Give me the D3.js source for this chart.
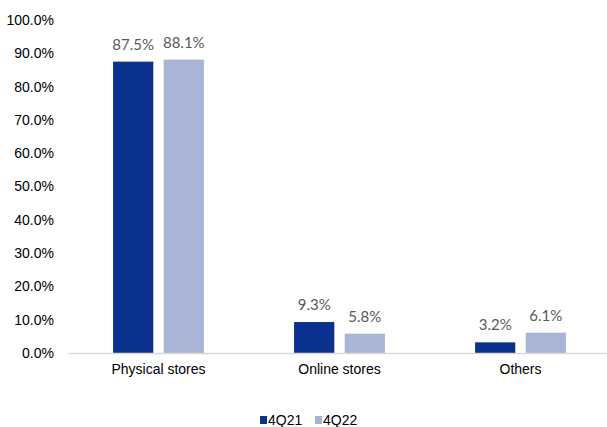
<!DOCTYPE html>
<html>
<head>
<meta charset="utf-8">
<script src="https://cdn.jsdelivr.net/npm/d3@7"></script>
<style>
  body { margin: 0; background: #fff; }
</style>
</head>
<body>
<div id="chart"></div>
<script>
var categories = ["Physical stores", "Online stores", "Others"];
var seriesNames = ["4Q21", "4Q22"];
var values4Q21 = [87.5, 9.3, 3.2];
var values4Q22 = [88.1, 5.8, 6.1];
var yTicks = [0, 10, 20, 30, 40, 50, 60, 70, 80, 90, 100];
var colors = ["#0b318f", "#a9b4d9"];

var width = 607, height = 427;
var margin = { top: 20, right: -4, bottom: 74, left: 68 };
var innerW = width - margin.left - margin.right,
	innerH = height - margin.top - margin.bottom;

var data = categories.map(function(c, i) {
	return { cat: c, vals: [values4Q21[i], values4Q22[i]] };
});

var svg = d3.select("#chart").append("svg")
	.attr("width", width)
	.attr("height", height);

var g = svg.append("g")
	.attr("transform", "translate(" + margin.left + "," + margin.top + ")");

var x = d3.scaleBand()
	.domain(categories)
	.range([0, innerW])
	.padding(0);

var xs = d3.scaleBand()
	.domain(seriesNames)
	.range([x.bandwidth() * 0.249, x.bandwidth() * 0.751])
	.paddingInner(0.205);

var y = d3.scaleLinear()
	.domain([0, 100])
	.range([innerH, 0]);

// y axis labels (no line)
var yAxis = d3.axisLeft(y)
	.tickValues(yTicks)
	.tickSize(0)
	.tickPadding(14)
	.tickFormat(function(d) { return d.toFixed(1) + "%"; });

g.append("g")
	.attr("class", "axis y")
	.call(yAxis)
	.call(function(s) { s.select(".domain").remove(); })
	.selectAll("text")
	.style("font-family", "Arial, 'Liberation Sans', sans-serif")
	.style("font-size", "14px")
	.attr("fill", "#000");

var groups = g.selectAll("g.cat")
	.data(data)
	.enter().append("g")
	.attr("class", "cat")
	.attr("transform", function(d) { return "translate(" + x(d.cat) + ",0)"; });

groups.selectAll("rect")
	.data(function(d) { return d.vals.map(function(v, i) { return { s: seriesNames[i], v: v, i: i }; }); })
	.enter().append("rect")
	.attr("x", function(d) { return xs(d.s); })
	.attr("y", function(d) { return y(d.v); })
	.attr("width", xs.bandwidth())
	.attr("height", function(d) { return innerH - y(d.v); })
	.attr("fill", function(d) { return colors[d.i]; });

groups.selectAll("text.val")
	.data(function(d) { return d.vals.map(function(v, i) { return { s: seriesNames[i], v: v, i: i }; }); })
	.enter().append("text")
	.attr("class", "val")
	.attr("x", function(d) { return xs(d.s) + xs.bandwidth() / 2; })
	.attr("y", function(d) { return y(d.v) - 12; })
	.attr("text-anchor", "middle")
	.style("font-family", "Lato, 'Open Sans', sans-serif")
	.style("font-size", "15px")
	.attr("fill", "#595959")
	.text(function(d) { return d.v.toFixed(1) + "%"; });

// x axis
var xAxis = d3.axisBottom(x).tickSize(0).tickPadding(11);
g.append("g")
	.attr("class", "axis x")
	.attr("transform", "translate(0," + innerH + ")")
	.call(xAxis)
	.call(function(s) {
		s.select(".domain").attr("stroke", "#d9d9d9").attr("stroke-width", 1.3);
	})
	.selectAll("text")
	.style("font-family", "Arial, 'Liberation Sans', sans-serif")
	.style("font-size", "14px")
	.attr("fill", "#000");

// legend
var legend = svg.append("g")
	.attr("transform", "translate(260,419)");
var legX = [0, 55];
seriesNames.forEach(function(s, i) {
	var lg = legend.append("g").attr("transform", "translate(" + legX[i] + ",0)");
	lg.append("rect")
		.attr("x", 0).attr("y", -3)
		.attr("width", 7).attr("height", 8)
		.attr("fill", colors[i]);
	lg.append("text")
		.attr("x", 8).attr("y", 1)
		.attr("dy", "0.35em")
		.style("font-family", "Arial, 'Liberation Sans', sans-serif")
		.style("font-size", "14px")
		.attr("fill", "#000")
		.text(s);
});
</script>
</body>
</html>
